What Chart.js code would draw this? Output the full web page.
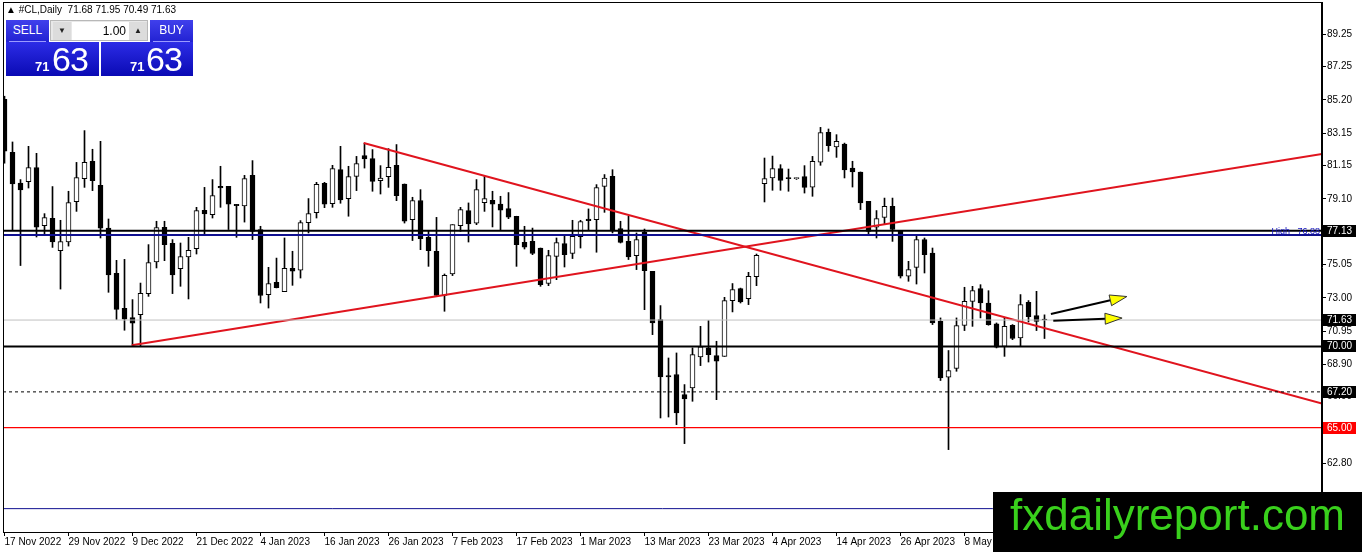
<!DOCTYPE html>
<html lang="en">
<head>
  <meta charset="UTF-8">
  <title>#CL,Daily</title>
  <script src="https://cdn.jsdelivr.net/npm/chart.js"></script>
  <style>
    body {
      margin: 0;
      background: #ffffff;
      font-family: 'Liberation Sans', Arial, sans-serif;
    }

    #wrap {
      position: relative;
      width: 1362px;
      height: 552px;
      overflow: hidden;
    }

    #chart { position: absolute; left: 0; top: 0; }

    .title {
      position: absolute; left: 6px; top: 4px;
      font-size: 10px; color: #000; white-space: pre;
    }

    .btn {
      position: absolute; top: 20px; width: 43px; height: 22px;
      background: linear-gradient(#4040ec, #2222d2);
      color: #fff; font-size: 12px; text-align: center; line-height: 20px;
    }
    .btn::after {
      content: ''; position: absolute; left: 3px; right: 3px; bottom: 0;
      border-bottom: 1px solid #9a9aff;
    }

    .spin {
      position: absolute; left: 50px; top: 20px; width: 98px; height: 21px;
      background: #e8e8e8; border: 1px solid #b8b8b8; box-sizing: border-box;
    }
    .spin .arr {
      position: absolute; top: 1px; width: 18px; height: 18px;
      background: #dcdcdc; font-size: 8px; text-align: center; line-height: 18px; color: #222;
    }
    .spin .val {
      position: absolute; left: 21px; top: 1px; width: 57px; height: 18px; box-sizing: border-box;
      background: #fff; font-size: 12px; text-align: right; padding-right: 3px; line-height: 18px;
    }

    .price {
      position: absolute; top: 42px; height: 34px;
      background: linear-gradient(#2c2ce6, #0a0ab4);
      color: #fff;
    }
    .price .small { position: absolute; top: 17px; font-size: 13px; font-weight: bold; }
    .price .big { position: absolute; top: 0px; font-size: 34px; letter-spacing: -1px; line-height: 34px; }

    .mark {
      position: absolute; left: 993px; top: 492px; width: 369px; height: 60px;
      background: #000; color: #39d01c;
      font-size: 44px; line-height: 46px; padding-left: 17px; box-sizing: border-box;
    }
  </style>
</head>
<body>

<div id="wrap">
  <canvas id="chart" width="1362" height="552"></canvas>

  <div class="title">&#9650; #CL,Daily  71.68 71.95 70.49 71.63</div>

  <div class="btn" style="left:6px">SELL</div>
  <div class="spin">
    <div class="arr" style="left:2px">&#9660;</div>
    <div class="val">1.00</div>
    <div class="arr" style="left:78px">&#9650;</div>
  </div>
  <div class="btn" style="left:150px">BUY</div>

  <div class="price" style="left:6px; width:93px">
    <span class="small" style="left:29px">71</span>
    <span class="big" style="left:46px">63</span>
  </div>
  <div class="price" style="left:101px; width:92px">
    <span class="small" style="left:29px">71</span>
    <span class="big" style="left:45px">63</span>
  </div>

  <div class="mark">fxdailyreport.com</div>
</div>

<script>
  // daily candles, 17 Nov 2022 -> 19 May 2023
  const opens = [
    85.24, 81.97, 80.08, 80.16, 81.03, 77.45, 77.90, 75.91, 76.44, 78.93,
    80.35, 81.42, 79.94, 77.30, 74.51, 72.35, 71.78, 71.96, 73.26, 75.21,
    77.35, 76.36, 74.80, 75.52, 76.03, 78.39, 78.13, 79.87, 79.87, 78.76,
    78.66, 80.55, 77.21, 73.20, 73.96, 73.38, 74.82, 74.71, 77.64, 78.25,
    80.06, 78.81, 80.90, 79.12, 80.49, 81.77, 81.58, 80.23, 80.47, 81.17,
    80.02, 77.82, 79.00, 76.73, 75.87, 73.15, 74.47, 77.45, 78.38, 77.61,
    78.87, 79.01, 78.78, 78.50, 78.03, 76.42, 76.48, 76.07, 73.88, 75.56,
    76.34, 75.73, 76.77, 77.86, 77.82, 79.87, 80.49, 77.27, 76.48, 75.60,
    77.04, 74.63, 71.66, 68.21, 68.27, 67.03, 67.44, 69.35, 69.91, 69.44,
    69.39, 72.83, 73.57, 72.95, 74.31, 80.04, 80.39, 80.97, 80.39, 80.35,
    80.47, 79.83, 81.37, 83.20, 82.30, 82.48, 81.00, 80.76, 78.95, 77.35,
    77.96, 78.64, 77.10, 74.33, 74.88, 76.59, 75.76, 71.55, 68.10, 68.64,
    71.30, 72.78, 73.57, 72.68, 71.39, 70.01, 71.31, 70.52, 72.72, 71.90,
    71.68
  ];
  const highs = [
    85.43, 82.61, 80.29, 82.34, 81.91, 78.19, 79.86, 77.78, 79.57, 81.35,
    83.31, 82.16, 82.65, 77.86, 75.31, 75.37, 72.89, 73.91, 76.28, 77.72,
    77.72, 76.59, 76.38, 76.73, 78.58, 79.81, 80.29, 81.11, 79.87, 78.76,
    80.55, 81.46, 77.41, 74.88, 75.45, 76.69, 75.87, 77.76, 79.12, 80.12,
    80.12, 81.17, 82.34, 81.11, 81.72, 82.54, 82.14, 81.15, 82.20, 82.45,
    80.02, 79.20, 79.67, 77.14, 77.96, 74.47, 77.51, 78.58, 78.85, 80.29,
    80.49, 79.57, 79.26, 79.49, 78.03, 77.41, 77.30, 76.07, 75.93, 76.69,
    76.90, 77.78, 77.78, 78.48, 79.98, 80.60, 80.90, 77.72, 78.03, 77.00,
    77.24, 74.63, 72.52, 69.29, 69.60, 67.65, 69.91, 71.24, 71.60, 70.32,
    73.03, 73.88, 73.60, 74.57, 75.70, 81.62, 81.74, 81.21, 80.94, 80.40,
    81.15, 81.72, 83.51, 83.41, 83.06, 82.54, 81.42, 80.76, 78.95, 78.38,
    79.15, 79.15, 77.14, 75.25, 76.79, 76.69, 76.07, 71.76, 69.75, 71.76,
    73.65, 73.71, 73.81, 73.44, 71.45, 71.76, 71.35, 73.20, 72.83, 73.40,
    71.95
  ];
  const lows = [
    81.30, 77.14, 74.99, 79.77, 76.75, 76.90, 76.11, 73.54, 76.19, 78.33,
    79.81, 79.61, 76.69, 73.34, 71.66, 71.00, 70.07, 70.01, 73.09, 74.84,
    75.29, 73.26, 73.71, 72.93, 75.70, 76.93, 77.92, 78.58, 77.21, 76.73,
    77.67, 76.59, 72.68, 72.37, 73.61, 73.38, 73.77, 74.22, 77.00, 77.92,
    78.56, 78.58, 78.83, 78.03, 79.61, 81.00, 79.57, 79.40, 79.81, 78.99,
    77.61, 76.53, 75.97, 74.94, 73.14, 72.17, 74.37, 77.10, 76.44, 77.51,
    78.33, 77.37, 77.14, 77.88, 74.94, 76.01, 75.66, 73.71, 73.75, 74.12,
    74.90, 75.42, 76.07, 77.16, 75.81, 78.27, 77.00, 76.38, 75.36, 74.74,
    72.27, 70.73, 65.59, 65.65, 65.18, 64.01, 66.62, 68.82, 69.04, 66.72,
    69.39, 72.13, 72.68, 72.58, 73.75, 78.91, 79.63, 79.63, 79.57, 80.30,
    79.46, 79.26, 81.17, 82.03, 81.66, 80.39, 79.83, 78.44, 76.90, 76.69,
    77.51, 76.48, 74.22, 74.02, 73.85, 74.53, 71.35, 67.90, 63.64, 68.47,
    70.98, 71.24, 71.76, 71.31, 69.91, 69.39, 70.42, 70.01, 71.51, 70.98,
    70.49
  ];
  const closes = [
    82.04, 80.02, 79.65, 81.03, 77.35, 77.94, 76.44, 76.46, 78.87, 80.41,
    81.35, 80.23, 77.30, 74.41, 72.29, 71.68, 71.43, 73.28, 75.17, 77.33,
    76.28, 74.41, 75.54, 75.93, 78.38, 78.17, 79.30, 79.77, 78.78, 78.68,
    80.35, 77.10, 73.14, 73.88, 73.63, 74.82, 74.65, 77.64, 78.19, 80.00,
    78.78, 80.97, 79.03, 80.47, 81.27, 81.56, 80.18, 80.39, 81.05, 79.30,
    77.72, 79.00, 76.65, 75.91, 73.14, 74.39, 77.51, 78.44, 77.55, 79.67,
    79.12, 78.78, 78.41, 77.98, 76.28, 76.13, 75.73, 73.81, 75.60, 76.40,
    75.66, 76.79, 77.70, 77.76, 79.79, 80.39, 77.14, 76.42, 75.52, 76.59,
    74.68, 71.45, 68.12, 68.12, 65.90, 66.76, 69.50, 69.97, 69.50, 69.09,
    72.83, 73.51, 72.74, 74.33, 75.62, 80.35, 80.97, 80.24, 80.35, 80.35,
    79.81, 81.42, 83.19, 82.38, 82.65, 80.88, 80.76, 78.85, 77.10, 77.88,
    78.64, 77.21, 74.33, 74.74, 76.59, 75.66, 71.45, 68.06, 68.51, 71.29,
    72.78, 73.44, 72.68, 71.35, 69.95, 71.24, 70.49, 72.58, 71.84, 71.55,
    71.63
  ];

  // bottom axis: one label every 8 bars
  const xTickIdx = [0, 8, 16, 24, 32, 40, 48, 56, 64, 72, 80, 88, 96, 104, 112, 120];
  const xTickText = ['17 Nov 2022', '29 Nov 2022', '9 Dec 2022', '21 Dec 2022', '4 Jan 2023',
    '16 Jan 2023', '26 Jan 2023', '7 Feb 2023', '17 Feb 2023', '1 Mar 2023', '13 Mar 2023',
    '23 Mar 2023', '4 Apr 2023', '14 Apr 2023', '26 Apr 2023', '8 May 2023'];

  // right axis
  const yTickValues = [62.80, 64.85, 66.90, 68.90, 70.95, 73.00, 75.05, 77.10, 79.10, 81.15, 83.15, 85.20, 87.25, 89.25];

  // horizontal levels and trend lines
  const levelBlack = [77.13, 70.00];
  const levelHigh = 76.88;
  const levelBid = 71.63;
  const levelDash = 67.20;
  const levelRed = 65.00;
  const levelLow = 60.00;
  const trendDown = [[44.9, 82.55], [164.69, 66.48]];
  const trendUp = [[15.9, 70.07], [164.69, 81.87]];
  const arrowsUp = [[130.8, 72.00], [140.3, 73.08]];
  const arrowsFlat = [[131.1, 71.59], [139.7, 71.75]];

  const X_MIN = -0.1875, X_MAX = 164.6875;
  const Y_MIN = 58.56, Y_MAX = 91.24;

  const idx = opens.map((_, i) => i);

  const hline = (v, color, width, dash) => ({
    type: 'line',
    data: [{ x: X_MIN, y: v }, { x: X_MAX, y: v }],
    borderColor: color, borderWidth: width, borderDash: dash || [],
    pointRadius: 0, order: 0
  });
  const seg = (pts, color, width) => ({
    type: 'line',
    data: pts.map(p => ({ x: p[0], y: p[1] })),
    borderColor: color, borderWidth: width, pointRadius: 0, order: 0
  });

  const overlay = {
    id: 'overlay',
    afterDraw(chart) {
      const { ctx, chartArea: a, scales: { x, y } } = chart;
      ctx.save();

      // frame
      ctx.strokeStyle = '#000';
      ctx.lineWidth = 1;
      ctx.strokeRect(a.left + 0.5, a.top + 0.5, a.right - a.left - 1, a.bottom - a.top);

      // "High" label on the blue line
      ctx.font = "9px 'Liberation Sans', Arial, sans-serif";
      ctx.fillStyle = '#1010c0';
      ctx.textAlign = 'right';
      ctx.textBaseline = 'alphabetic';
      ctx.fillText('High   ' + levelHigh.toFixed(2), a.right - 2, y.getPixelForValue(levelHigh) - 1);

      // yellow arrows
      [arrowsUp, arrowsFlat].forEach(p => {
        const x1 = x.getPixelForValue(p[0][0]), y1 = y.getPixelForValue(p[0][1]);
        const x2 = x.getPixelForValue(p[1][0]), y2 = y.getPixelForValue(p[1][1]);
        const ang = Math.atan2(y2 - y1, x2 - x1);
        const hl = 17, hw = 5.5;
        const bx = x2 - hl * Math.cos(ang), by = y2 - hl * Math.sin(ang);
        ctx.strokeStyle = '#000';
        ctx.lineWidth = 2;
        ctx.beginPath(); ctx.moveTo(x1, y1); ctx.lineTo(bx, by); ctx.stroke();
        ctx.beginPath();
        ctx.moveTo(x2, y2);
        ctx.lineTo(bx - hw * Math.sin(ang), by + hw * Math.cos(ang));
        ctx.lineTo(bx + hw * Math.sin(ang), by - hw * Math.cos(ang));
        ctx.closePath();
        ctx.fillStyle = '#ffff00';
        ctx.fill();
        ctx.lineWidth = 1;
        ctx.strokeStyle = '#333';
        ctx.stroke();
      });

      // price boxes on the right axis
      const boxes = [[levelBlack[0], '#000'], [levelBid, '#000'], [levelBlack[1], '#000'],
                     [levelDash, '#000'], [levelRed, '#ff0000']];
      ctx.font = "10px 'Liberation Sans', Arial, sans-serif";
      ctx.textAlign = 'left';
      ctx.textBaseline = 'middle';
      boxes.forEach(([v, bg]) => {
        const py = Math.round(y.getPixelForValue(v));
        ctx.fillStyle = bg;
        ctx.fillRect(a.right + 1, py - 6, 33, 12);
        ctx.fillStyle = '#fff';
        ctx.fillText(v.toFixed(2), a.right + 5, py + 0.5);
      });

      ctx.restore();
    }
  };

  Chart.defaults.font.family = "'Liberation Sans', Arial, sans-serif";
  Chart.defaults.color = '#000';

  new Chart(document.getElementById('chart'), {
    type: 'bar',
    data: {
      datasets: [
        {
          label: 'wick',
          data: idx.map(i => ({ x: i, y: [lows[i], highs[i]] })),
          backgroundColor: '#000',
          barThickness: 1,
          grouped: false,
          order: 2
        },
        {
          label: 'body',
          data: idx.map(i => ({ x: i, y: [opens[i], closes[i]] })),
          backgroundColor: idx.map(i => closes[i] >= opens[i] ? '#ffffff' : '#000000'),
          borderColor: '#000',
          borderWidth: 1,
          borderSkipped: false,
          barThickness: 5,
          minBarLength: 1,
          grouped: false,
          order: 1
        },
        hline(levelLow, '#101090', 1),
        hline(levelRed, '#ff0000', 1.2),
        hline(levelDash, '#000', 1, [3, 3]),
        hline(levelBid, '#c0c0c0', 1),
        hline(levelHigh, '#101090', 2),
        hline(levelBlack[0], '#000', 2),
        hline(levelBlack[1], '#000', 2),
        seg(trendDown, '#e0141e', 2),
        seg(trendUp, '#e0141e', 2)
      ]
    },
    plugins: [overlay],
    options: {
      responsive: false,
      animation: false,
      events: [],
      layout: { padding: { left: 3, top: 2, right: 0, bottom: 0 } },
      plugins: {
        legend: { display: false },
        tooltip: { enabled: false }
      },
      scales: {
        x: {
          type: 'linear',
          min: X_MIN,
          max: X_MAX,
          offset: false,
          afterBuildTicks: s => { s.ticks = xTickIdx.map(v => ({ value: v })); },
          afterFit: s => { s.height = 20; s.paddingLeft = 0; s.paddingRight = 0; },
          ticks: {
            callback: (v, i) => xTickText[i],
            align: 'start',
            autoSkip: false,
            maxRotation: 0,
            minRotation: 0,
            padding: 0,
            font: { size: 10 },
            color: '#000'
          },
          grid: { drawOnChartArea: false, offset: false, tickLength: 4, color: '#000' },
          border: { color: '#000' }
        },
        y: {
          position: 'right',
          min: Y_MIN,
          max: Y_MAX,
          afterBuildTicks: s => { s.ticks = yTickValues.map(v => ({ value: v })); },
          afterFit: s => { s.width = 40; s.paddingTop = 0; s.paddingBottom = 0; },
          ticks: {
            callback: v => v.toFixed(2),
            padding: 1,
            font: { size: 10 },
            color: '#000'
          },
          grid: { drawOnChartArea: false, tickLength: 4, color: '#000' },
          border: { color: '#000' }
        }
      }
    }
  });
</script>

</body>
</html>
